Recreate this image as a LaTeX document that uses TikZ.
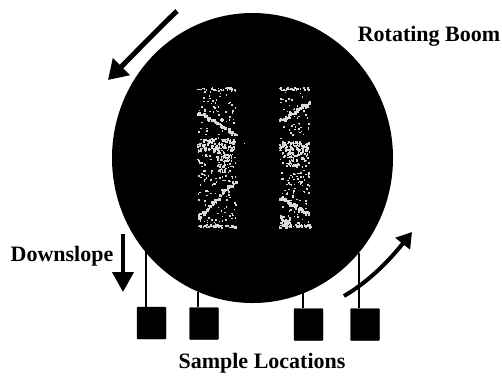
\documentclass[tikz,border=0pt]{standalone}
\usepackage{fontspec}
\setmainfont{Liberation Serif}
\usetikzlibrary{arrows.meta}
\tikzset{
  x=1pt,y=-1pt,
  sample/.style={draw=black,fill=black,rounded corners=1pt,minimum width=29pt,minimum height=32pt,inner sep=0pt},
  lbl/.style={font=\bfseries\fontsize{22pt}{24pt}\selectfont,inner sep=0pt,text=black},
  tether/.style={line width=1.5pt,black},
  bigarrow/.style={line width=5pt,black,-{Triangle[length=19pt,width=23pt]}},
  downarrow/.style={line width=4pt,black,-{Triangle[length=20pt,width=21pt]}},
  smallarrow/.style={line width=4pt,black,-{Triangle[length=15pt,width=18pt]}},
  speck/.style={fill=white!85!black,draw=none}
}
\newcommand{\specks}[6]{% x0 y0 x1 y1 count size
  \foreach \k in {1,...,#5}{
    \pgfmathsetmacro{\px}{#1+rnd*(#3-#1)}
    \pgfmathsetmacro{\py}{#2+rnd*(#4-#2)}
    \fill[speck] (\px,\py) rectangle ++(#6,#6);
  }}
\newcommand{\diagline}[4]{% x0 y0 x1 y1
  \foreach \t in {0,0.03,...,1}{
    \pgfmathsetmacro{\px}{#1+\t*(#3-#1)+(rnd-0.5)*3}
    \pgfmathsetmacro{\py}{#2+\t*(#4-#2)+(rnd-0.5)*3}
    \fill[speck] (\px,\py) rectangle ++(2.6,2.6);
  }}
\begin{document}
\begin{tikzpicture}
\useasboundingbox (0,0) rectangle (502,376);
\fill[white] (0,0) rectangle (502,376);
\pgfmathsetseed{4217}
\fill[black] (252.5,158) ellipse [x radius=140.5, y radius=145];
% left panel
\specks{197}{87}{235}{90}{34}{1.6}
\specks{197}{90}{235}{138}{55}{1.6}
\specks{196}{138}{235}{150}{135}{1.7}
\specks{197}{150}{235}{182}{75}{1.6}
\specks{217}{150}{233}{172}{55}{1.7}
\specks{197}{182}{235}{224}{60}{1.6}
\specks{196}{224}{236}{227}{42}{1.8}
\diagline{198}{112}{235}{133}
\diagline{197}{217}{235}{180}
% right panel
\specks{279}{87}{309}{90}{34}{1.6}
\specks{279}{90}{309}{141}{48}{1.6}
\specks{279}{141}{309}{150}{105}{1.7}
\specks{279}{150}{309}{195}{100}{1.6}
\specks{286}{150}{306}{166}{50}{1.7}
\specks{279}{195}{309}{224}{42}{1.6}
\specks{279}{215}{290}{224}{34}{1.6}
\specks{278}{224}{310}{227}{42}{1.8}
\diagline{280}{120}{308}{102}
\diagline{280}{197}{308}{213}
\fill[speck] (243.5,142.5) rectangle ++(1.5,1.5);
% samples
\node[sample] (s1) at (151.5,323) {};
\node[sample] (s2) at (204,323.5) {};
\node[sample] (s3) at (308.5,324.5) {};
\node[sample] (s4) at (365,324.5) {};
\coordinate (b1) at (146,248);
\coordinate (b2) at (198,292);
\coordinate (b3) at (303,293);
\coordinate (b4) at (359,253);
\draw[tether] (b1) -- (b1 |- s1.north);
\draw[tether] (b2) -- (b2 |- s2.north);
\draw[tether] (b3) -- (b3 |- s3.north);
\draw[tether] (b4) -- (b4 |- s4.north);
% arrows
\coordinate (a1) at (177,11); \coordinate (a2) at (108,80);
\draw[bigarrow] (a1) .. controls (155,32) and (132,56) .. (a2);
\coordinate (c1) at (344,296); \coordinate (c2) at (412,232);
\draw[smallarrow] (c1) .. controls (368,282) and (388,262) .. (c2);
\coordinate (d1) at (123,234); \coordinate (d2) at (123,292);
\draw[downarrow] (d1) -- (d2);
% labels
\node[lbl] (t1) at (429,36) {Rotating Boom};
\node[lbl] (t2) at (62,256) {Downslope};
\node[lbl] (t3) at (262,363) {Sample Locations};
\end{tikzpicture}
\end{document}
